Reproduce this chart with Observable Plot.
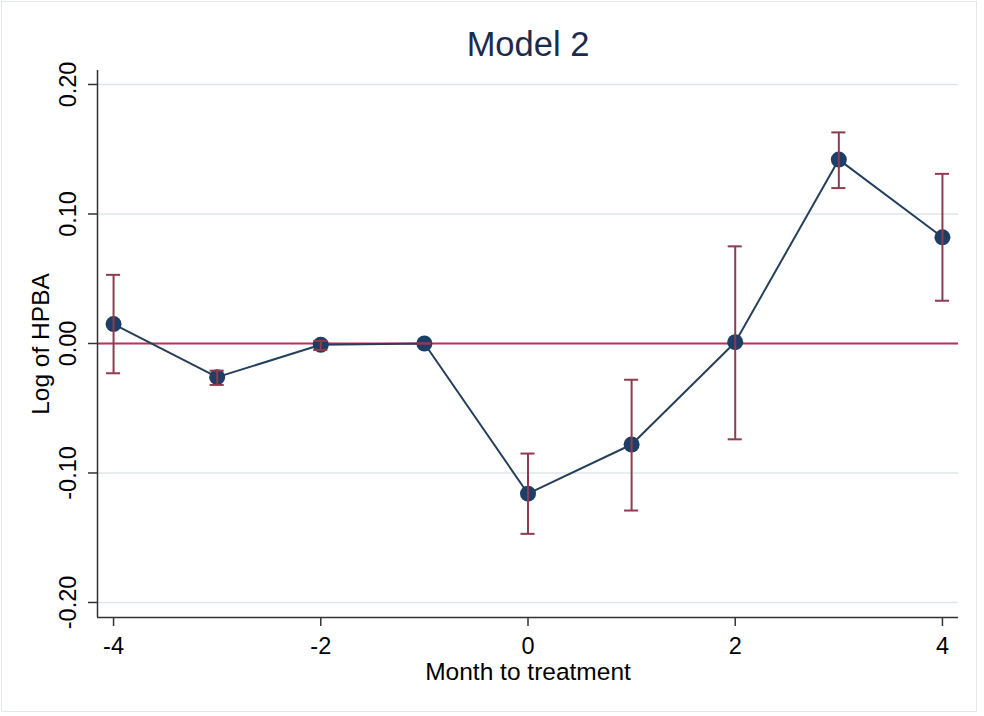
<!DOCTYPE html>
<html>
<head>
<meta charset="utf-8">
<script src="https://cdn.jsdelivr.net/npm/d3@7"></script>
<script src="https://cdn.jsdelivr.net/npm/@observablehq/plot@0.6"></script>
<style>
  html, body { margin: 0; padding: 0; background: #fff; }
  #wrap { position: relative; width: 984px; height: 716px; overflow: hidden; font-family: "Liberation Sans", Arial, sans-serif; }
  #border { position: absolute; left: 1px; top: 1px; width: 976px; height: 711px; border: 1px solid #e2e7ea; box-sizing: border-box; pointer-events: none; }
  #title { position: absolute; left: 0; top: 24px; width: 1056px; text-align: center; font-size: 34.5px; color: #1c2a50; line-height: 40px; }
  #chart { position: absolute; left: 0; top: 0; }
</style>
</head>
<body>
<div id="wrap">
  <div id="chart"></div>
  <div id="title">Model 2</div>
  <div id="border"></div>
</div>
<script>
// Data
const months = [-4, -3, -2, -1, 0, 1, 2, 3, 4];
const coef   = [0.015, -0.026, -0.001, 0.000, -0.116, -0.078, 0.001, 0.142, 0.082];
const lower  = [-0.023, -0.032, -0.005, 0.000, -0.147, -0.129, -0.074, 0.120, 0.033];
const upper  = [0.053, -0.021, 0.002, 0.000, -0.085, -0.028, 0.075, 0.163, 0.131];
const yTicks = [-0.20, -0.10, 0.00, 0.10, 0.20];
const xTicks = [-4, -2, 0, 2, 4];

const data = months.map((m, i) => ({m, c: coef[i], lo: lower[i], hi: upper[i]}));

const xDomain = [-4.155, 4.155];
const yDomain = [-0.2116, 0.2108];
const capHalf = 0.068;

const fmtY = d => d.toFixed(2);
const font = "Liberation Sans, Arial, sans-serif";

const plot = Plot.plot({
  width: 984,
  height: 716,
  marginLeft: 97,
  marginRight: 26,
  marginTop: 70,
  marginBottom: 99,
  style: {fontFamily: font, background: "transparent"},
  x: {domain: xDomain},
  y: {domain: yDomain},
  marks: [
    Plot.gridY(yTicks, {stroke: "#dde7ea", strokeOpacity: 1, strokeWidth: 1.5}),
    Plot.ruleY([0], {stroke: "#c2305a", strokeWidth: 2}),
    Plot.line(data, {x: "m", y: "c", stroke: "#26405a", strokeWidth: 2}),
    Plot.dot(data, {x: "m", y: "c", r: 8, fill: "#1f3e66", stroke: "none"}),
    Plot.ruleX(data, {x: "m", y1: "lo", y2: "hi", stroke: "#8e3b4f", strokeWidth: 2}),
    Plot.ruleY(data, {y: "hi", x1: d => d.m - capHalf, x2: d => d.m + capHalf, stroke: "#8e3b4f", strokeWidth: 2}),
    Plot.ruleY(data, {y: "lo", x1: d => d.m - capHalf, x2: d => d.m + capHalf, stroke: "#8e3b4f", strokeWidth: 2}),
    // axis lines
    Plot.ruleX([xDomain[0]], {stroke: "#333", strokeWidth: 1.5}),
    Plot.ruleY([yDomain[0]], {stroke: "#333", strokeWidth: 1.5}),
    // ticks
    Plot.axisY({ticks: yTicks, tickSize: 9, tickFormat: () => "", stroke: "#333", strokeWidth: 1.5, label: null}),
    Plot.axisX({ticks: xTicks, tickSize: 9, tickFormat: () => "", stroke: "#333", strokeWidth: 1.5, label: null}),
    // y tick labels (rotated)
    Plot.text(yTicks, {y: d => d, frameAnchor: "left", dx: -29, rotate: -90, text: fmtY, fontSize: 23.5, fill: "#000", textAnchor: "middle", lineAnchor: "middle"}),
    // x tick labels
    Plot.text(xTicks, {x: d => d, frameAnchor: "bottom", dy: 29, text: d => String(d), fontSize: 23.5, fill: "#000", textAnchor: "middle", lineAnchor: "middle"}),
    // axis titles
    Plot.text(["Log of HPBA"], {frameAnchor: "left", dx: -56, rotate: -90, text: d => d, fontSize: 24.5, fill: "#000", textAnchor: "middle", lineAnchor: "middle"}),
    Plot.text(["Month to treatment"], {frameAnchor: "bottom", dy: 55, text: d => d, fontSize: 24.5, fill: "#000", textAnchor: "middle", lineAnchor: "middle"})
  ]
});
document.getElementById("chart").appendChild(plot);
</script>
</body>
</html>
